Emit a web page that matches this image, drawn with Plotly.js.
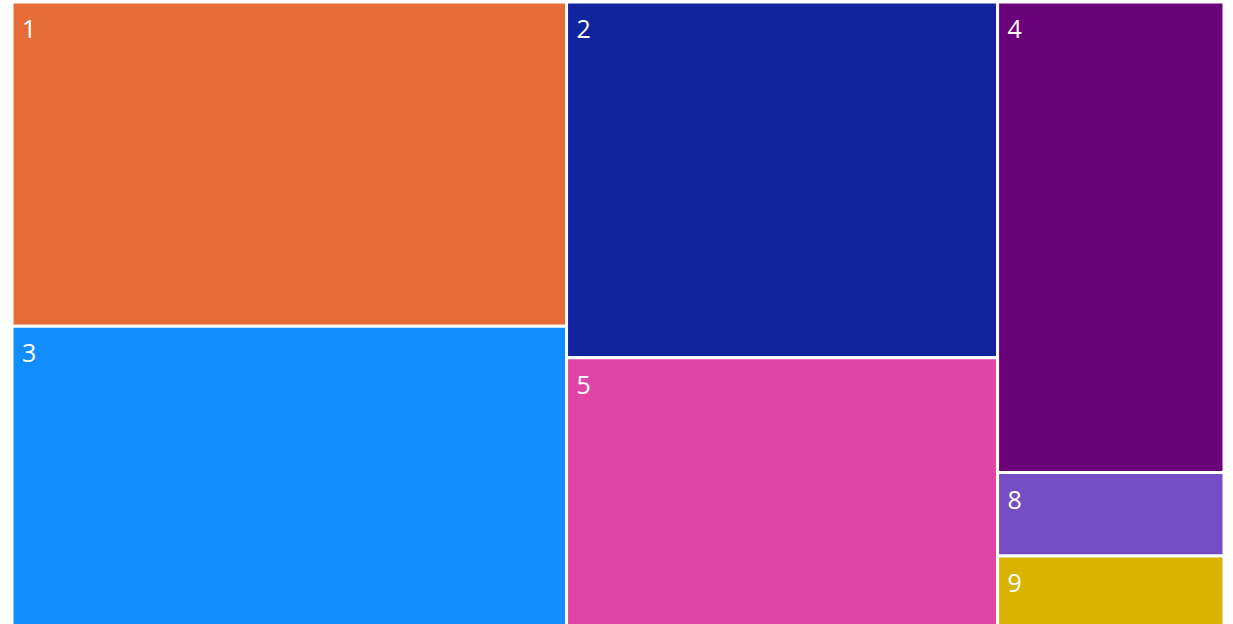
<!DOCTYPE html>
<html>
<head>
<meta charset="utf-8">
<script src="https://cdn.plot.ly/plotly-3.0.1.min.js"></script>
<style>html,body{margin:0;padding:0;background:#fff;overflow:hidden;}#chart{width:1233px;height:626px;}</style>
</head>
<body>
<div id="chart"></div>
<script>
// column groups (unlabelled) and the leaf tiles
var ids = ["A", "B", "C", "1", "3", "2", "5", "4", "8", "9"];
var labels = ["", "", "", "1", "3", "2", "5", "4", "8", "9"];
var parents = ["", "", "", "A", "A", "B", "B", "C", "C", "C"];
var values = [0, 0, 0, 238, 220, 203, 153, 141, 25, 21];
var colors = ["#ffffff", "#ffffff", "#ffffff", "#E66C37", "#118DFF", "#12239E", "#E044A7", "#6B007B", "#744EC2", "#D9B300"];
var templates = labels.map(function (l) { return l === "" ? "" : "%{label}"; });

var trace = {
  type: "treemap",
  ids: ids,
  labels: labels,
  parents: parents,
  values: values,
  branchvalues: "remainder",
  sort: true,
  texttemplate: templates,
  textposition: "top left",
  textfont: {family: "Open Sans, sans-serif", size: 25, color: "#ffffff"},
  marker: {colors: colors, line: {width: 3, color: "#ffffff"}, pad: {t: 0, l: 0, r: 0, b: 0}},
  pathbar: {visible: false},
  tiling: {packing: "slice-dice", pad: 0},
  hoverinfo: "label+value"
};
var layout = {
  width: 1233, height: 626,
  margin: {l: 12, r: 9, t: 2, b: 0},
  paper_bgcolor: "#ffffff",
  showlegend: false
};
Plotly.newPlot("chart", [trace], layout, {displayModeBar: false, staticPlot: true}).then(function (gd) {
  gd.querySelectorAll("g.slice text").forEach(function (t) {
    var tr = t.getAttribute("transform") || "";
    t.setAttribute("transform", "translate(7,6) " + tr);
  });
});
</script>
</body>
</html>
